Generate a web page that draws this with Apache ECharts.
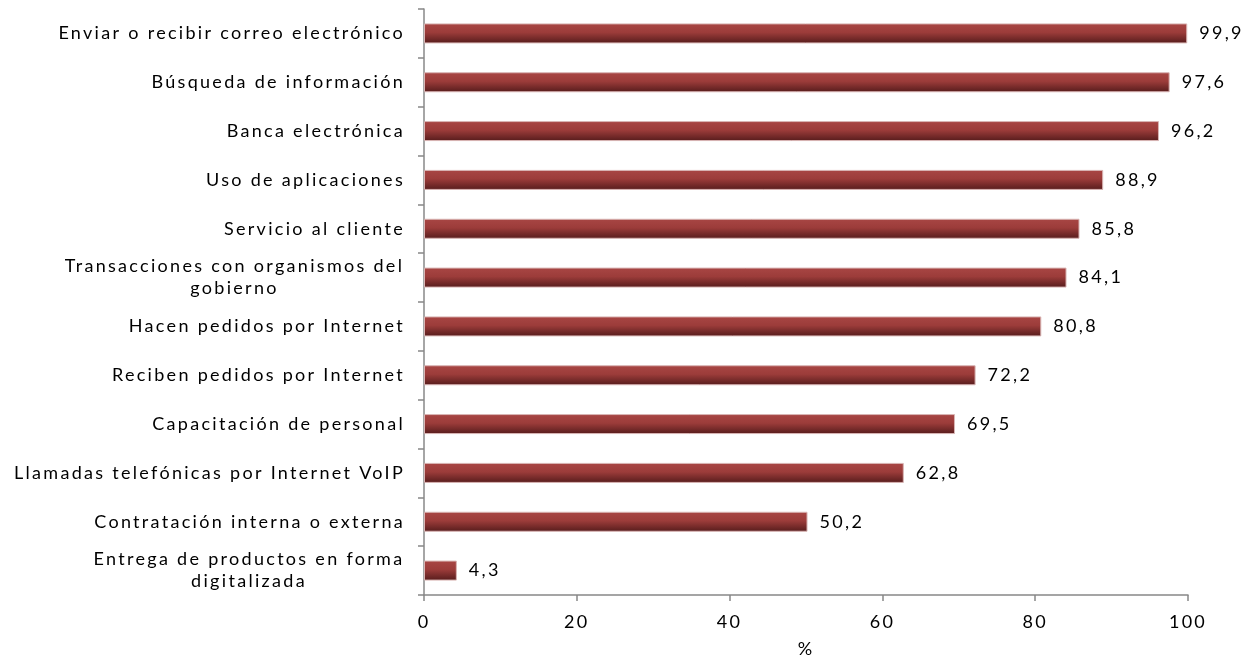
<!DOCTYPE html>
<html><head><meta charset="utf-8">
<script src="https://cdn.jsdelivr.net/npm/echarts@6/dist/echarts.min.js"></script>
<style>html,body{margin:0;padding:0;background:#fff}#c{width:1247px;height:656px}</style>
</head><body><div id="c"></div>
<script>
const categories = [
  "Enviar o recibir correo electrónico",
  "Búsqueda de información",
  "Banca electrónica",
  "Uso de aplicaciones",
  "Servicio al cliente",
  "Transacciones con organismos del\ngobierno",
  "Hacen pedidos por Internet",
  "Reciben pedidos por Internet",
  "Capacitación de personal",
  "Llamadas telefónicas por Internet VoIP",
  "Contratación interna o externa",
  "Entrega de productos en forma\ndigitalizada"
];
const values = [99.9, 97.6, 96.2, 88.9, 85.8, 84.1, 80.8, 72.2, 69.5, 62.8, 50.2, 4.3];
const xTicks = [0, 20, 40, 60, 80, 100];
const axisName = "%";

const FONT = "Lato, sans-serif";
const FS = 18;
const LS = '2.3px';

// wider letter spacing, as in the reference rendering
(function () {
  const P = CanvasRenderingContext2D.prototype;
  if (!('letterSpacing' in P)) return;
  const ft = P.fillText, mt = P.measureText;
  P.fillText = function () { this.letterSpacing = LS; return ft.apply(this, arguments); };
  P.measureText = function () { this.letterSpacing = LS; return mt.apply(this, arguments); };
})();

const ctx = document.createElement('canvas').getContext('2d');
ctx.font = FS + "px Lato";
const rich = {};
const keyOf = {};
let idx = 0;
categories.forEach(c => {
  const lines = c.split('\n');
  if (lines.length > 1) {
    const k = 'm' + (idx++);
    keyOf[c] = k;
    const w = Math.ceil(Math.max(...lines.map(l => ctx.measureText(l).width))) + 1;
    rich[k] = {width: w, align: 'center', fontFamily: FONT, fontSize: FS, color: '#000', lineHeight: 22};
  }
});

const chart = echarts.init(document.getElementById('c'));
chart.setOption({
  animation: false,
  grid: {left: 424, right: 59, top: 9, bottom: 61, containLabel: false, outerBoundsMode: 'none'},
  xAxis: {
    type: 'value', min: 0, max: 100, interval: 20,
    name: axisName, nameLocation: 'middle', nameGap: 44,
    nameTextStyle: {fontFamily: FONT, fontSize: FS, color: '#000'},
    axisLine: {show: true, lineStyle: {color: '#888', width: 1.5}},
    axisTick: {show: true, length: 6, lineStyle: {color: '#888', width: 1.5}},
    splitLine: {show: false},
    axisLabel: {fontFamily: FONT, fontSize: FS, color: '#000', margin: 17,
      formatter: v => xTicks.includes(v) ? String(v) : ''}
  },
  yAxis: {
    type: 'category', inverse: true, data: categories,
    axisLine: {show: true, lineStyle: {color: '#888', width: 1.5}},
    axisTick: {show: true, length: 6, lineStyle: {color: '#888', width: 1.5}},
    axisLabel: {fontFamily: FONT, fontSize: FS, color: '#000', margin: 19, lineHeight: 22,
      formatter: v => {
        const k = keyOf[v];
        if (!k) return v;
        return v.split('\n').map(l => '{' + k + '|' + l + '}').join('\n');
      },
      rich: rich}
  },
  series: [{
    type: 'bar', data: values, barWidth: 20,
    itemStyle: {
      color: new echarts.graphic.LinearGradient(0, 0, 0, 1, [
        {offset: 0, color: '#a84644'},
        {offset: 0.45, color: '#9c3c3a'},
        {offset: 1, color: '#561c1c'}
      ]),
      borderColor: '#d9b5b4', borderWidth: 1
    },
    label: {show: true, position: 'right', distance: 12, fontFamily: FONT, fontSize: FS, color: '#000',
      formatter: p => String(p.value).replace('.', ',')}
  }]
});
</script></body></html>
